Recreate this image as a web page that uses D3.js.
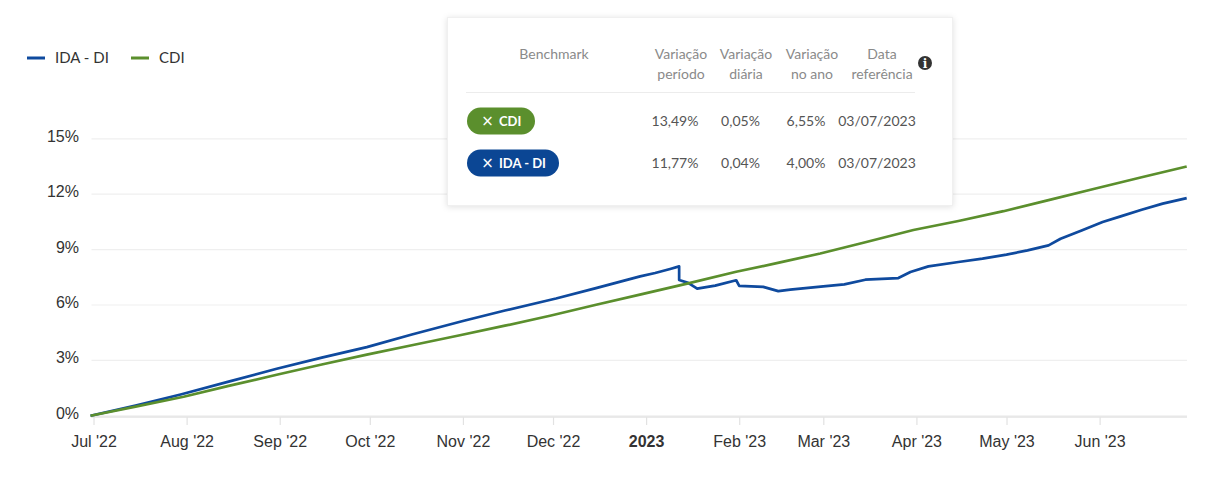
<!DOCTYPE html>
<html>
<head>
<meta charset="utf-8">
<script src="https://cdn.jsdelivr.net/npm/d3@7"></script>
<style>
    body { margin: 0; background: #fff; }
    svg { display: block; }
    .axis-text { font-family: "Liberation Sans", Arial, sans-serif; font-size: 16px; fill: #333; }
    .lato { font-family: Lato, "Open Sans", sans-serif; }
</style>
</head>
<body>
<svg width="1222" height="486"></svg>
<script>
// IDA - DI, accumulated % since 30/06/2022
const idaDates = [ '2022-06-30', '2022-07-15', '2022-07-30', '2022-08-15', '2022-08-31', '2022-09-15', '2022-09-30',
    '2022-10-15', '2022-11-01', '2022-11-15', '2022-12-02', '2022-12-15', '2022-12-30', '2023-01-04', '2023-01-09',
    '2023-01-12', '2023-01-12', '2023-01-15', '2023-01-18', '2023-01-24', '2023-01-31', '2023-02-01', '2023-02-09',
    '2023-02-14', '2023-02-18', '2023-03-01', '2023-03-08', '2023-03-15', '2023-03-26', '2023-03-30', '2023-04-05',
    '2023-04-15', '2023-04-23', '2023-05-01', '2023-05-08', '2023-05-15', '2023-05-19', '2023-05-26', '2023-06-02',
    '2023-06-08', '2023-06-15', '2023-06-22', '2023-06-30' ];
const idaValues = [ 0, 0.55, 1.15, 1.85, 2.55, 3.15, 3.72,
    4.4, 5.13, 5.7, 6.35, 6.9, 7.55, 7.73, 7.95,
    8.09, 7.35, 7.2, 6.89, 7.05, 7.34, 7.04, 6.98,
    6.75, 6.83, 7.01, 7.12, 7.37, 7.46, 7.79, 8.09,
    8.33, 8.51, 8.73, 8.96, 9.23, 9.59, 10.04, 10.49,
    10.8, 11.16, 11.49, 11.79 ];

// CDI, accumulated % since 30/06/2022
const cdiDates = [ '2022-06-30', '2022-07-15', '2022-07-31', '2022-08-15', '2022-08-31', '2022-09-15', '2022-09-30',
    '2022-10-15', '2022-10-31', '2022-11-15', '2022-11-30', '2022-12-15', '2022-12-31', '2023-01-15', '2023-01-31',
    '2023-02-15', '2023-02-28', '2023-03-15', '2023-03-31', '2023-04-15', '2023-04-30', '2023-05-15', '2023-05-31',
    '2023-06-15', '2023-06-30' ];
const cdiValues = [ 0, 0.5, 1.03, 1.62, 2.22, 2.78, 3.31,
    3.82, 4.36, 4.88, 5.42, 6.0, 6.6, 7.17, 7.8,
    8.32, 8.79, 9.4, 10.06, 10.55, 11.08, 11.68, 12.32,
    12.92, 13.5 ];

const yTicks = [ 0, 3, 6, 9, 12, 15 ];
const monthTicks = [ '2022-07-01', '2022-08-01', '2022-09-01', '2022-10-01', '2022-11-01', '2022-12-01',
    '2023-01-01', '2023-02-01', '2023-03-01', '2023-04-01', '2023-05-01', '2023-06-01' ];
const monthLabels = [ "Jul '22", "Aug '22", "Sep '22", "Oct '22", "Nov '22", "Dec '22",
    '2023', "Feb '23", "Mar '23", "Apr '23", "May '23", "Jun '23" ];

// summary table
const benchmarks = [ 'CDI', 'IDA - DI' ];
const periodVar = [ '13,49%', '11,77%' ];
const dailyVar = [ '0,05%', '0,04%' ];
const yearVar = [ '6,55%', '4,00%' ];
const refDates = [ '03/07/2023', '03/07/2023' ];

const BLUE = '#0f4a9e';
const GREEN = '#5b8f2d';

const parse = d3.timeParse( '%Y-%m-%d' );
const svg = d3.select( 'svg' );

const xScale = d3.scaleTime()
    .domain( [ parse( '2022-06-30' ), parse( '2023-06-30' ) ] )
    .range( [ 90.5, 1186.7 ] );
const yScale = d3.scaleLinear()
    .domain( [ 0, 15 ] )
    .range( [ 415.8, 138.8 ] );

function drawGrid() {
    const grid = svg.append( 'g' ).attr( 'class', 'y-grid' );
    grid.selectAll( 'line' ).data( yTicks )
        .enter().append( 'line' )
        .attr( 'x1', 91.5 ).attr( 'x2', 1187 )
        .attr( 'y1', d => yScale( d ) ).attr( 'y2', d => yScale( d ) )
        .attr( 'stroke', '#efefef' )
        .attr( 'stroke-width', 1.2 );
    grid.selectAll( 'text' ).data( yTicks )
        .enter().append( 'text' )
        .attr( 'class', 'axis-text' )
        .attr( 'x', 79 )
        .attr( 'y', d => yScale( d ) + 3 )
        .attr( 'text-anchor', 'end' )
        .text( d => d + '%' );
}

function drawXAxis() {
    const dates = monthTicks.map( parse );
    const xAxis = d3.axisBottom( xScale )
        .tickValues( dates )
        .tickSize( 8 )
        .tickPadding( 11 )
        .tickFormat( ( d, i ) => monthLabels[ i ] );
    const g = svg.append( 'g' )
        .attr( 'class', 'x-axis' )
        .attr( 'transform', 'translate(0,417)' )
        .call( xAxis );
    g.select( '.domain' ).remove();
    g.append( 'line' )
        .attr( 'x1', 91 ).attr( 'x2', 1187 )
        .attr( 'stroke', '#e3e3e3' ).attr( 'stroke-width', 1.5 );
    g.selectAll( '.tick line' ).attr( 'stroke', '#e2e2e2' ).attr( 'stroke-width', 1.2 );
    g.selectAll( '.tick text' )
        .attr( 'class', 'axis-text' )
        .attr( 'font-weight', ( d, i ) => monthLabels[ i ] === '2023' ? 'bold' : null )
        .style( 'font-family', '"Liberation Sans", Arial, sans-serif' )
        .style( 'font-size', '16px' )
        .style( 'fill', '#333' );
}

function drawSeries( dates, values, color ) {
    const points = dates.map( ( d, i ) => ( { date: parse( d ), value: values[ i ] } ) );
    const line = d3.line()
        .x( d => xScale( d.date ) )
        .y( d => yScale( d.value ) );
    svg.append( 'path' )
        .datum( points )
        .attr( 'd', line )
        .attr( 'fill', 'none' )
        .attr( 'stroke', color )
        .attr( 'stroke-width', 2.7 )
        .attr( 'stroke-linejoin', 'round' );
}

function drawLegend() {
    const items = [ { name: 'IDA - DI', color: BLUE, x: 27 }, { name: 'CDI', color: GREEN, x: 131 } ];
    const g = svg.append( 'g' ).attr( 'class', 'legend' );
    const item = g.selectAll( 'g' ).data( items ).enter().append( 'g' )
        .attr( 'transform', d => `translate(${d.x},58)` );
    item.append( 'line' )
        .attr( 'x1', 0 ).attr( 'x2', 18 )
        .attr( 'stroke', d => d.color )
        .attr( 'stroke-width', 3 );
    item.append( 'text' )
        .attr( 'class', 'lato' )
        .attr( 'x', 28 ).attr( 'y', 5 )
        .attr( 'font-size', 15 )
        .attr( 'fill', '#333' )
        .text( d => d.name );
}

function drawTable() {
    const defs = svg.append( 'defs' );
    defs.append( 'filter' ).attr( 'id', 'shadow' )
        .attr( 'x', '-10%' ).attr( 'y', '-10%' ).attr( 'width', '120%' ).attr( 'height', '130%' )
        .append( 'feDropShadow' )
        .attr( 'dx', 0 ).attr( 'dy', 1 ).attr( 'stdDeviation', 3 )
        .attr( 'flood-color', '#000' ).attr( 'flood-opacity', 0.12 );

    const g = svg.append( 'g' ).attr( 'class', 'lato' );
    g.append( 'rect' )
        .attr( 'x', 447.5 ).attr( 'y', 17.5 )
        .attr( 'width', 505 ).attr( 'height', 188 )
        .attr( 'fill', '#fff' )
        .attr( 'stroke', '#f0f0f0' )
        .attr( 'filter', 'url(#shadow)' );

    const headers = [
        { lines: [ 'Benchmark' ], x: 554 },
        { lines: [ 'Variação', 'período' ], x: 681 },
        { lines: [ 'Variação', 'diária' ], x: 746 },
        { lines: [ 'Variação', 'no ano' ], x: 812 },
        { lines: [ 'Data', 'referência' ], x: 882 }
    ];
    headers.forEach( h => {
        h.lines.forEach( ( t, i ) => {
            g.append( 'text' )
                .attr( 'x', h.x ).attr( 'y', 59 + i * 20 )
                .attr( 'text-anchor', 'middle' )
                .attr( 'font-size', 14 )
                .attr( 'fill', '#8a8a8a' )
                .text( t );
        } );
    } );
    g.append( 'circle' ).attr( 'cx', 925 ).attr( 'cy', 63 ).attr( 'r', 7 ).attr( 'fill', '#333' );
    g.append( 'text' )
        .attr( 'x', 925 ).attr( 'y', 67.5 )
        .attr( 'text-anchor', 'middle' )
        .attr( 'font-size', 12 ).attr( 'font-weight', 'bold' )
        .attr( 'fill', '#fff' )
        .style( 'font-family', 'Georgia, "DejaVu Serif", serif' )
        .text( 'i' );
    g.append( 'line' )
        .attr( 'x1', 466 ).attr( 'x2', 915 )
        .attr( 'y1', 92.5 ).attr( 'y2', 92.5 )
        .attr( 'stroke', '#ececec' );

    const pillColors = [ GREEN, '#0b4694' ];
    const pillWidths = [ 68, 92 ];
    const rowY = [ 121, 163 ];
    benchmarks.forEach( ( name, i ) => {
        const cy = rowY[ i ];
        g.append( 'rect' )
            .attr( 'x', 467 ).attr( 'y', cy - 13.5 )
            .attr( 'width', pillWidths[ i ] ).attr( 'height', 27 )
            .attr( 'rx', 13.5 )
            .attr( 'fill', pillColors[ i ] );
        g.append( 'text' )
            .attr( 'x', 487.5 ).attr( 'y', cy + 5 )
            .attr( 'text-anchor', 'middle' )
            .attr( 'font-size', 15 )
            .attr( 'fill', '#fff' )
            .style( 'font-family', '"DejaVu Sans", sans-serif' )
            .text( '×' );
        g.append( 'text' )
            .attr( 'x', 499 ).attr( 'y', cy + 5 )
            .attr( 'font-size', 13 ).attr( 'font-weight', 'bold' )
            .attr( 'fill', '#fff' )
            .text( name );
        const cells = [
            { t: periodVar[ i ], x: 675 },
            { t: dailyVar[ i ], x: 740.5 },
            { t: yearVar[ i ], x: 806 },
            { t: refDates[ i ], x: 877 }
        ];
        cells.forEach( c => {
            g.append( 'text' )
                .attr( 'x', c.x ).attr( 'y', cy + 5 )
                .attr( 'text-anchor', 'middle' )
                .attr( 'font-size', 14 )
                .attr( 'fill', '#555' )
                .text( c.t );
        } );
    } );
}

drawGrid();
drawXAxis();
drawSeries( idaDates, idaValues, BLUE );
drawSeries( cdiDates, cdiValues, GREEN );
drawLegend();
drawTable();
</script>
</body>
</html>
